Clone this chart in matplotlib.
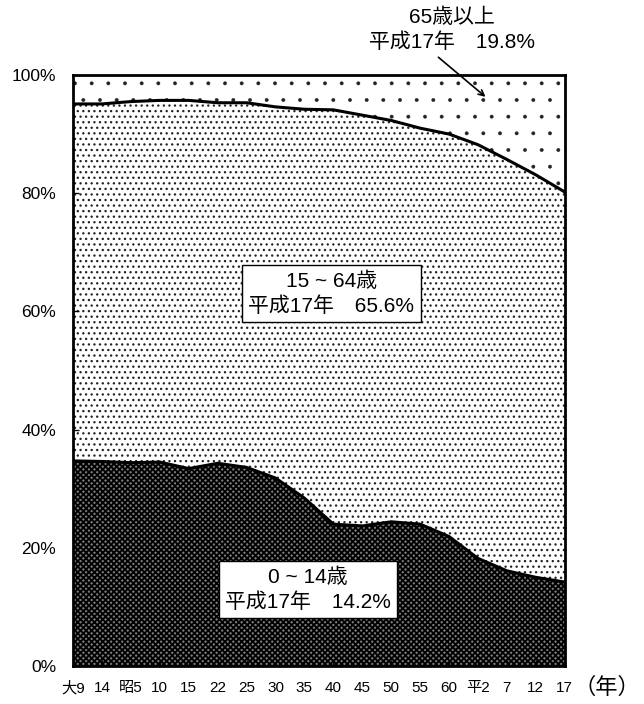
import numpy as np
import matplotlib
matplotlib.use("Agg")
import matplotlib.pyplot as plt

plt.rcParams['font.family'] = ['Liberation Sans', 'Noto Sans CJK JP', 'DejaVu Sans']

#~~~~~~Data (percent of population)~~~~~~
years = ['大9', '14', '昭5', '10', '15', '22', '25', '30', '35', '40',
         '45', '50', '55', '60', '平2', '7', '12', '17']
child   = [34.7, 34.6, 34.4, 34.5, 33.4, 34.3, 33.6, 31.8, 28.4, 24.0,
           23.7, 24.4, 24.0, 21.9, 18.2, 16.1, 15.0, 14.2]
working = [60.4, 60.5, 61.1, 61.2, 62.3, 61.0, 61.7, 62.8, 65.8, 70.1,
           69.5, 67.9, 67.0, 68.1, 70.0, 69.6, 68.1, 66.0]
elderly = [4.9, 4.9, 4.5, 4.3, 4.3, 4.7, 4.7, 5.4, 5.8, 5.9,
           6.8, 7.7, 9.0, 10.0, 11.8, 14.3, 16.9, 19.8]

x = np.arange(len(years))
lower = np.array(child)
upper = lower + np.array(working)
top = upper + np.array(elderly)


def hatched_fill(y0, y1, face, hatch, ec, hlw):
    # hatch linewidth is global in matplotlib, so pin it for this artist's draw
    with plt.rc_context({'hatch.linewidth': hlw}):
        poly = ax.fill_between(x, y0, y1, facecolor=face, hatch=hatch,
                               edgecolor=ec, linewidth=0)
    orig = poly.draw

    def draw(renderer):
        with plt.rc_context({'hatch.linewidth': hlw}):
            orig(renderer)
    poly.draw = draw
    return poly


#~~~~~~Figure~~~~~~
fig = plt.figure(figsize=(6.44, 7.04), dpi=100)
ax = fig.add_axes([0.1134, 0.054, 0.7636, 0.8395])

hatched_fill(0, lower, '#7a7a7a', 'xxxxxx', 'black', 1.3)
hatched_fill(lower, upper, 'white', '...', '#222222', 0.9)
hatched_fill(upper, top, 'white', '.', '#222222', 0.3)

# boundary lines
ax.plot(x, lower, color='black', lw=2.2)
ax.plot(x, upper, color='black', lw=2.2)

ax.set_xlim(0, len(years) - 1)
ax.set_ylim(0, 100)
ax.set_yticks(np.arange(0, 101, 20))
ax.set_yticklabels(['%d%%' % v for v in range(0, 101, 20)], fontsize=12.5)
ax.set_xticks(x)
ax.set_xticklabels(years, fontsize=11)
ax.tick_params(direction='in', length=4, width=1)
ax.tick_params(axis='y', pad=12)
ax.tick_params(axis='x', pad=11)
for s in ax.spines.values():
    s.set_linewidth(2)

#~~~~~~Annotations~~~~~~
box = dict(boxstyle='square,pad=0.3', fc='white', ec='black', lw=1)
ax.text(8.93, 63.0, '15 ~ 64歳\n平成17年　65.6%', ha='center', va='center',
        fontsize=15, linespacing=1.35, bbox=box)
ax.text(8.13, 12.9, '0 ~ 14歳\n平成17年　14.2%', ha='center', va='center',
        fontsize=15, linespacing=1.35, bbox=box)
ax.text(13.1, 107.7, '65歳以上\n平成17年　19.8%', ha='center', va='center',
        fontsize=15, linespacing=1.35, clip_on=False)
ax.annotate('', xy=(14.26, 96.3), xytext=(12.63, 103.0),
            annotation_clip=False,
            arrowprops=dict(arrowstyle='->', color='black', lw=1.2,
                            shrinkA=0, shrinkB=0))
fig.text(0.943, 0.023, '（年）', ha='center', va='center', fontsize=16,
         family=['Noto Sans CJK JP'])

fig.savefig('out.png', dpi=100)
